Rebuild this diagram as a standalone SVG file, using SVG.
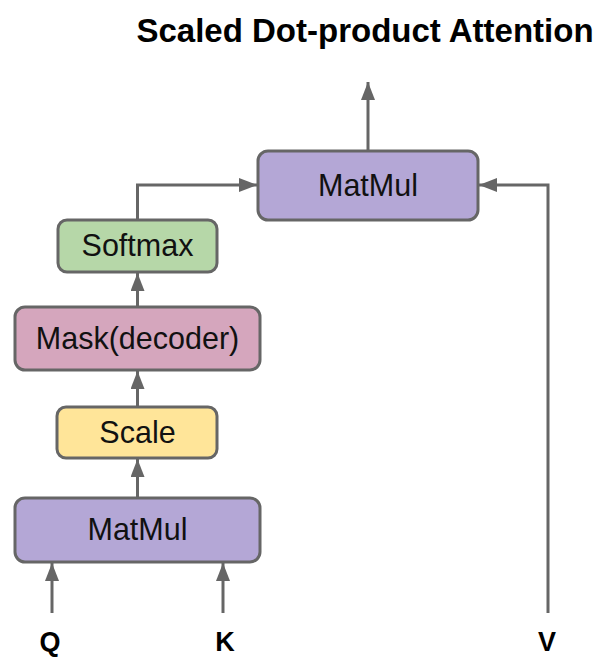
<svg xmlns="http://www.w3.org/2000/svg" width="595" height="657" viewBox="0 0 595 657">
<style>
.box{stroke:#666;stroke-width:3}
.lbl{font-family:"Liberation Sans",Arial,sans-serif;font-size:30.5px;fill:#111;text-anchor:middle}
.io{font-family:"Liberation Sans",Arial,sans-serif;font-size:27px;font-weight:bold;fill:#000;text-anchor:middle}
.conn{fill:none;stroke:#666;stroke-width:3;marker-end:url(#ah)}
</style>
<defs>
<marker id="ah" markerUnits="userSpaceOnUse" markerWidth="18" markerHeight="14" refX="18" refY="7" orient="auto">
<path d="M0,0 L18,7 L0,14 z" fill="#666"/>
</marker>
</defs>
<rect width="595" height="657" fill="#fff"/>
<text x="365" y="42" font-family="'Liberation Sans',Arial,sans-serif" font-size="33" font-weight="bold" text-anchor="middle" fill="#000">Scaled Dot-product Attention</text>
<g id="connectors">
<path class="conn" d="M368,150 V82"/>
<path class="conn" d="M137.5,220 V185 H257"/>
<path class="conn" d="M548,613 V185 H479"/>
<path class="conn" d="M137.5,307 V273"/>
<path class="conn" d="M137.5,407 V371"/>
<path class="conn" d="M137.5,498 V459"/>
<path class="conn" d="M52,613 V563"/>
<path class="conn" d="M223,613 V563"/>
</g>
<g id="matmul-top">
<rect class="box" x="258" y="151" width="220" height="69" rx="10" fill="#b4a7d6"/>
<text class="lbl" x="368" y="196">MatMul</text>
</g>
<g id="softmax">
<rect class="box" x="58" y="220" width="159" height="52" rx="9" fill="#b6d7a8"/>
<text class="lbl" x="137.5" y="256">Softmax</text>
</g>
<g id="mask">
<rect class="box" x="15" y="307" width="245" height="63" rx="10" fill="#d5a6bd"/>
<text class="lbl" x="137.5" y="349">Mask(decoder)</text>
</g>
<g id="scale">
<rect class="box" x="57" y="407" width="160" height="51" rx="9" fill="#ffe599"/>
<text class="lbl" x="137.5" y="443">Scale</text>
</g>
<g id="matmul-bottom">
<rect class="box" x="15" y="498" width="245" height="64" rx="10" fill="#b4a7d6"/>
<text class="lbl" x="137.5" y="540">MatMul</text>
</g>
<g id="q"><text class="io" x="50" y="651">Q</text></g>
<g id="k"><text class="io" x="225" y="651">K</text></g>
<g id="v"><text class="io" x="547" y="651">V</text></g>
</svg>
